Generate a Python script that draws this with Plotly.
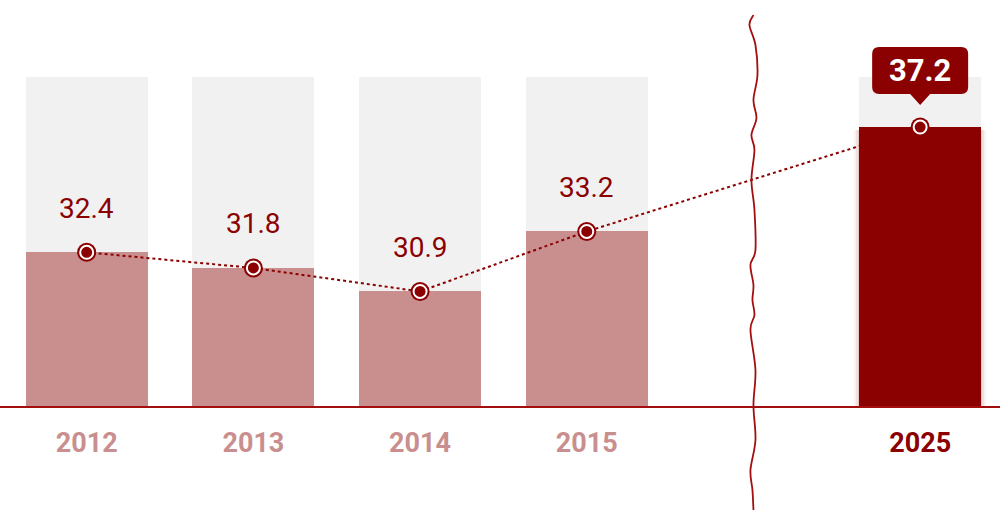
import plotly.graph_objects as go

# ---- data ----
years = ["2012", "2013", "2014", "2015", "2025"]
positions = [0, 1, 2, 3, 5]          # 2025 sits after the axis break
values = [32.4, 31.8, 30.9, 33.2, 37.2]
track_max = [39.1, 39.1, 39.1, 39.1, 39.1]
break_pos = 4

DARK = "#8b0000"
PALE = "#c98f8f"
GREY = "#f1f1f1"

bar_w = 0.732
bar_colors = [PALE, PALE, PALE, PALE, DARK]
label_colors = [PALE, PALE, PALE, PALE, DARK]

fig = go.Figure()

# background tracks
fig.add_trace(go.Bar(x=positions, y=track_max, width=bar_w, marker_color=GREY,
                     marker_line_width=0, hoverinfo="skip", showlegend=False))

# soft glow for the highlighted bar
for extra, op in [(0.06, 0.05), (0.035, 0.07), (0.015, 0.10)]:
    fig.add_trace(go.Bar(x=[positions[-1]], y=[values[-1] - 0.1], width=bar_w + extra,
                         marker_color=DARK, opacity=op, marker_line_width=0,
                         hoverinfo="skip", showlegend=False))

# value bars
fig.add_trace(go.Bar(x=positions, y=values, width=bar_w, marker_color=bar_colors,
                     marker_line_width=0, showlegend=False))

# dotted trend line
fig.add_trace(go.Scatter(x=positions, y=values, mode="lines",
                         line=dict(color=DARK, width=2, dash="3px,3px"),
                         hoverinfo="skip", showlegend=False))
# markers: outer ring + white ring + dark core
fig.add_trace(go.Scatter(x=positions, y=values, mode="markers",
                         marker=dict(size=19, color=DARK, line_width=0),
                         hoverinfo="skip", showlegend=False))
fig.add_trace(go.Scatter(x=positions, y=values, mode="markers",
                         marker=dict(size=13, color=DARK, line=dict(color="white", width=2)),
                         showlegend=False))

# value labels
for p, v in zip(positions[:-1], values[:-1]):
    fig.add_annotation(x=p, y=v, text=f"{v:.1f}", showarrow=False, yanchor="middle",
                       yshift=44, font=dict(family="Roboto", size=28, color=DARK))

# callout for last value
fig.add_shape(type="path", xref="x", yref="y", xsizemode="pixel", ysizemode="pixel",
              xanchor=positions[-1], yanchor=values[-1],
              path="M -41,80 L 41,80 Q 48,80 48,73 L 48,40 Q 48,33 41,33 L 10,33 L 0,22 "
                   "L -10,33 L -41,33 Q -48,33 -48,40 L -48,73 Q -48,80 -41,80 Z",
              fillcolor=DARK, line_width=0, layer="above")
fig.add_annotation(x=positions[-1], y=values[-1], text=f"<b>{values[-1]:.1f}</b>",
                   showarrow=False, yanchor="middle", yshift=57,
                   font=dict(family="Roboto", size=31, color="white"))

# wavy axis-break line (pixel offsets in x, paper fraction in y)
wave_px = [(15, 0), (25, -4), (45, 2), (75, 4), (100, 0), (118, 3), (135, -2), (150, 1),
           (180, -2), (210, 1), (250, 2), (265, -3), (285, 0), (300, -1), (315, 1),
           (330, -3), (370, 2), (405, 0), (440, 2), (470, -3), (490, -1), (510, 0)]
plot_bottom = 406.0
pts = [(dx, (plot_bottom - py) / plot_bottom) for py, dx in wave_px]
d = f"M {pts[0][0]},{pts[0][1]:.4f}"
for i in range(len(pts) - 1):
    p0 = pts[i - 1] if i > 0 else pts[i]
    p1, p2 = pts[i], pts[i + 1]
    p3 = pts[i + 2] if i + 2 < len(pts) else p2
    c1 = (p1[0] + (p2[0] - p0[0]) / 6, p1[1] + (p2[1] - p0[1]) / 6)
    c2 = (p2[0] - (p3[0] - p1[0]) / 6, p2[1] - (p3[1] - p1[1]) / 6)
    d += f" C {c1[0]:.2f},{c1[1]:.4f} {c2[0]:.2f},{c2[1]:.4f} {p2[0]},{p2[1]:.4f}"
fig.add_shape(type="path", xref="x", yref="paper", xsizemode="pixel", xanchor=break_pos,
              path=d, line=dict(color="#a30f0f", width=1.8), layer="above")

ticktext = [f'<span style="color:{c}"><b>{y}</b></span>' for y, c in zip(years, label_colors)]

fig.update_layout(
    width=1000, height=518,
    margin=dict(l=0, r=0, t=0, b=112),
    paper_bgcolor="white", plot_bgcolor="white",
    barmode="overlay", bargap=0,
    showlegend=False,
    xaxis=dict(range=[-0.52, 5.479], tickvals=positions, ticktext=ticktext,
               showgrid=False, zeroline=False, showline=True, linecolor="#a30f0f",
               linewidth=1.5, ticks="", ticklabelstandoff=12,
               tickfont=dict(family="Roboto", size=27)),
    yaxis=dict(range=[26.51, 42.07], visible=False, showgrid=False, zeroline=False),
)

fig.write_html("out.html", config={"displayModeBar": False},
               post_script="document.body.style.margin='0';document.body.style.overflow='hidden';")
